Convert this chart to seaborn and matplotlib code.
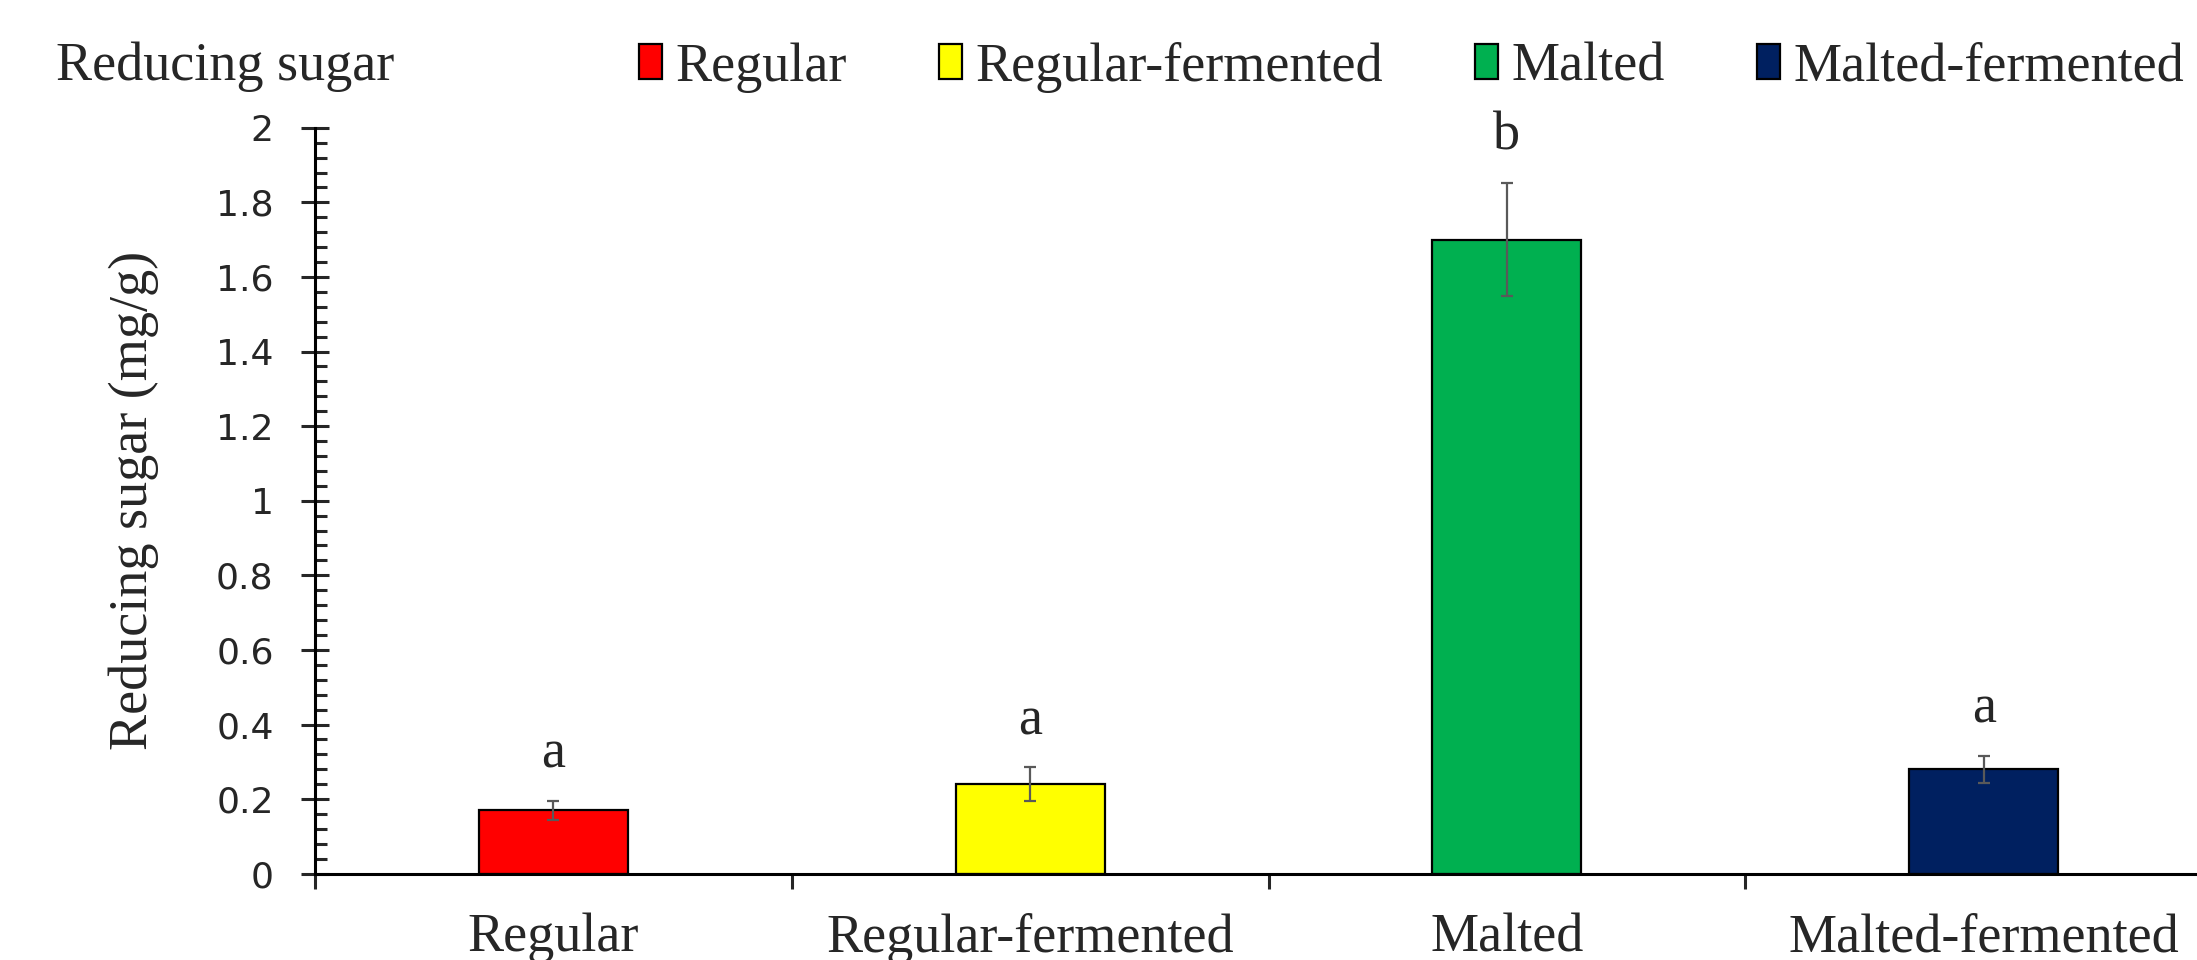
import matplotlib
matplotlib.use("Agg")
import matplotlib.pyplot as plt
from matplotlib.patches import Patch
from matplotlib.ticker import MultipleLocator
import seaborn as sns

# Data
categories = ["Regular", "Regular-fermented", "Malted", "Malted-fermented"]
sugar = [0.17, 0.24, 1.70, 0.28]
sugar_err = [0.025, 0.045, 0.152, 0.036]
letters = ["a", "a", "b", "a"]
colors = ["#FF0000", "#FFFF00", "#00B050", "#002060"]

sns.set_style("ticks")
serif = ["Liberation Serif", "DejaVu Serif"]
plt.rcParams["font.family"] = serif

fig = plt.figure(figsize=(21.97, 9.6), dpi=100)
ax = fig.add_axes([0.1434, 0.0899, 0.868, 0.777])

sns.barplot(x=categories, y=sugar, hue=categories, palette=colors, order=categories,
            width=0.3125, edgecolor="black", linewidth=1.6, errorbar=None,
            saturation=1, legend=False, ax=ax)

# error bars
ax.errorbar(range(len(categories)), sugar, yerr=sugar_err, fmt="none",
            ecolor="#595959", elinewidth=1.6, capsize=4.3, capthick=1.6)

# significance letters above the error bars
for i, (v, e, t) in enumerate(zip(sugar, sugar_err, letters)):
    ax.text(i, v + e + 0.125, t, ha="center", va="center", fontsize=39)

ax.set_xlim(-0.5, 3.5)
ax.set_ylim(0, 2)

# y axis: major every 0.2, minor every 0.04
ax.yaxis.set_minor_locator(MultipleLocator(0.04))
ax.set_yticks([0, 0.2, 0.4, 0.6, 0.8, 1, 1.2, 1.4, 1.6, 1.8, 2])
ax.set_yticklabels(["0", "0.2", "0.4", "0.6", "0.8", "1", "1.2", "1.4", "1.6", "1.8", "2"])
ax.tick_params(axis="y", which="major", direction="inout", length=19.5, width=2.2,
               labelsize=26, pad=20)
ax.tick_params(axis="y", which="minor", direction="in", length=8.6, width=2.2)
for lab in ax.get_yticklabels():
    lab.set_family(["DejaVu Sans"])

# x axis: ticks between categories, labels centred on bars
ax.set_xticks([-0.5, 0.5, 1.5, 2.5, 3.5])
ax.set_xticklabels([])
ax.set_xticks(range(len(categories)), minor=True)
ax.set_xticklabels(categories, minor=True, fontsize=39)
ax.tick_params(axis="x", which="major", direction="out", length=10.8, width=2.2)
ax.tick_params(axis="x", which="minor", length=0, pad=28)

sns.despine(ax=ax)
for s in ["left", "bottom"]:
    ax.spines[s].set_linewidth(2.2)
    ax.spines[s].set_color("black")

ax.set_xlabel("")
ax.set_ylabel("Reducing sugar (mg/g)", fontsize=39)
ax.yaxis.set_label_coords(-0.082, 0.5)

# legend at the top
handles = [Patch(facecolor=c, edgecolor="black", linewidth=1.6) for c in colors]
fig.legend(handles, categories, loc="center", bbox_to_anchor=(0.6425, 0.930),
           ncol=4, frameon=False, fontsize=39, handlelength=0.42, handleheight=0.6,
           handletextpad=0.25, columnspacing=1.7, borderpad=0)

fig.text(0.0255, 0.930, "Reducing sugar", ha="left", va="center", fontsize=39)

fig.savefig("out.png", dpi=100)
